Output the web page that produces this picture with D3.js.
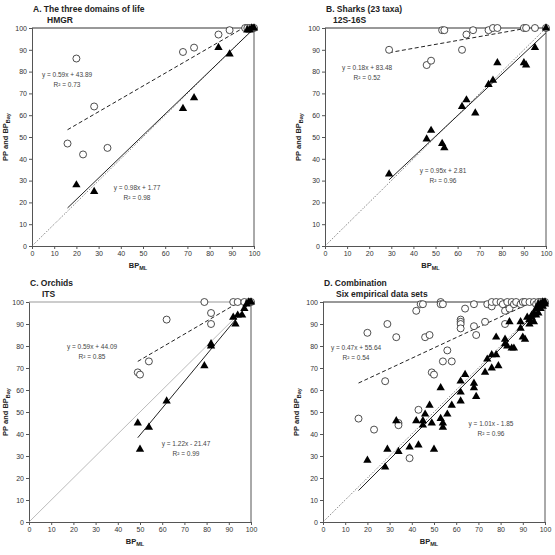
<!DOCTYPE html>
<html>
<head>
<meta charset="utf-8">
<script src="https://cdn.jsdelivr.net/npm/d3@7"></script>
<style>
  body { margin: 0; background: #fff; }
  svg { font-family: Arial, "Liberation Sans", sans-serif; }
</style>
</head>
<body>
<svg id="chart" width="555" height="555"></svg>
<script>
// values, [BP_ML, PP] and [BP_ML, BP_Bay]
var aPP = [[16,47],[20,86],[23,42],[28,64],[34,45],[68,89],[73,91],[84,97],[89,99],[96,100],[97,100],[98,100],[99,100],[100,100]];
var aBay = [[20,28],[28,25],[68,63],[73,68],[84,91],[89,88],[97,99],[98,99],[99,100],[100,100]];

var bPP = [[29,90],[46,83],[48,85],[53,99],[54,99],[62,90],[64,97],[67,99],[74,99],[76,100],[78,100],[90,100],[91,100],[95,100],[100,100]];
var bBay = [[29,33],[46,49],[48,53],[53,47],[54,45],[62,64],[64,67],[68,61],[74,74],[76,76],[78,84],[90,84],[91,83],[95,91],[100,100]];

var cPP = [[49,68],[50,67],[54,73],[62,92],[79,100],[82,95],[82,90],[92,100],[94,100],[97,100],[99,100],[100,100]];
var cBay = [[49,45],[50,33],[54,43],[62,55],[79,71],[82,81],[82,80],[92,93],[93,90],[94,94],[96,94],[97,97],[98,99],[99,100],[100,100]];

var dPP = [[16,47],[20,86],[23,42],[28,64],[29,90],[33,84],[34,45],[34,44],[39,29],[42,96],[43,51],[44,99],[45,99],
  [46,84],[48,85],[49,68],[50,67],[53,100],[53,99],[54,99],[54,73],[56,78],[58,73],[62,92],[62,91],[62,90],[62,88],
  [64,97],[68,99],[68,89],[69,85],[73,91],[74,99],[76,98],[76,100],[78,100],[80,100],[81,99],[82,96],[82,90],[83,100],
  [84,97],[85,100],[86,99],[87,100],[89,99],[90,100],[91,100],[93,100],[95,100],[96,99],[97,100],[98,100],[99,100],[100,100]];
var dBay = [[20,28],[28,25],[29,33],[33,46],[34,32],[39,34],[42,46],[43,35],[45,46],[45,44],[46,49],[48,53],[49,45],
  [50,33],[53,61],[53,47],[54,45],[54,43],[56,49],[58,53],[62,64],[62,59],[62,55],[64,67],[68,63],[68,61],[69,57],
  [73,68],[74,74],[76,76],[76,70],[78,76],[78,84],[79,71],[82,83],[82,81],[83,80],[84,91],[85,79],[86,79],[89,88],
  [89,91],[90,84],[91,83],[92,93],[93,90],[93,92],[94,94],[94,93],[95,91],[95,95],[96,94],[96,97],[97,97],[97,95],
  [97,99],[98,99],[98,97],[99,100],[99,98],[100,100],[100,99]];

// trendlines: [slope, intercept, R2, xFrom, xTo]
var aFits = [[0.59, 43.89, 0.73, 16, 100], [0.98, 1.77, 0.98, 16, 100]];
var bFits = [[0.18, 83.48, 0.52, 29, 100], [0.95, 2.81, 0.96, 29, 100]];
var cFits = [[0.59, 44.09, 0.85, 49, 100], [1.22, -21.47, 0.99, 49, 100]];
var dFits = [[0.47, 55.64, 0.54, 16, 100], [1.01, -1.85, 0.96, 16, 100]];

var titles = [
  ['A. The three domains of life', 'HMGR'],
  ['B. Sharks (23 taxa)', '12S-16S'],
  ['C. Orchids', 'ITS'],
  ['D. Combination', 'Six empirical data sets']
];
var ticks = [0, 10, 20, 30, 40, 50, 60, 70, 80, 90, 100];

var panels = [
  {pp: aPP, bay: aBay, fits: aFits, title: titles[0], box: [32, 254, 28, 246], t2: 15,
    eq: [[67, 77], [137, 190]], diag: 'dot'},
  {pp: bPP, bay: bBay, fits: bFits, title: titles[1], box: [325, 546, 28, 246], t2: 8,
    eq: [[367, 70], [443, 173]], diag: 'dot'},
  {pp: cPP, bay: cBay, fits: cFits, title: titles[2], box: [29, 251, 302, 522], t2: 13,
    eq: [[92, 349], [186, 446]], diag: 'solid'},
  {pp: dPP, bay: dBay, fits: dFits, title: titles[3], box: [323, 545, 302, 522], t2: 13,
    eq: [[356, 350], [491, 426]], diag: 'dot'}
];

var svg = d3.select('#chart');

panels.forEach(function (p, i) {
  var x = d3.scaleLinear().domain([0, 100]).range([p.box[0], p.box[1]]);
  var y = d3.scaleLinear().domain([0, 100]).range([p.box[3], p.box[2]]);
  var g = svg.append('g');

  g.append('clipPath').attr('id', 'clip' + i)
    .append('rect')
    .attr('x', p.box[0] - 5).attr('y', p.box[2] - 5)
    .attr('width', p.box[1] - p.box[0] + 10).attr('height', p.box[3] - p.box[2] + 10);
  g.append('clipPath').attr('id', 'lclip' + i)
    .append('rect')
    .attr('x', p.box[0]).attr('y', p.box[2])
    .attr('width', p.box[1] - p.box[0]).attr('height', p.box[3] - p.box[2]);

  //Axes
  var yAxis = d3.axisLeft(y).tickValues(ticks).tickSize(3).tickPadding(2);
  var xAxis = d3.axisBottom(x).tickValues(ticks).tickSize(3).tickPadding(2);
  g.append('g').attr('transform', 'translate(' + p.box[0] + ',0)').call(yAxis);
  g.append('g').attr('transform', 'translate(0,' + p.box[3] + ')').call(xAxis);
  g.selectAll('.domain').attr('stroke', '#555');
  g.selectAll('.tick line').attr('stroke', '#555');
  g.selectAll('.tick text').attr('fill', '#333').style('font-size', '7px');

  // border on top and right
  g.append('line')
    .attr('x1', p.box[0]).attr('y1', p.box[2]).attr('x2', p.box[1]).attr('y2', p.box[2])
    .attr('stroke', i == 2 ? '#999' : '#333').attr('stroke-width', 1);
  g.append('line')
    .attr('x1', p.box[1]).attr('y1', p.box[2]).attr('x2', p.box[1]).attr('y2', p.box[3])
    .attr('stroke', '#555').attr('stroke-width', 1);

  var lines = g.append('g').attr('clip-path', 'url(#lclip' + i + ')');
  var plot = g.append('g').attr('clip-path', 'url(#clip' + i + ')');

  // 1:1 line
  lines.append('line')
    .attr('x1', x(0)).attr('y1', y(0)).attr('x2', x(100)).attr('y2', y(100))
    .attr('stroke', p.diag == 'dot' ? '#666' : '#aaa')
    .attr('stroke-width', p.diag == 'dot' ? 1 : 0.8)
    .attr('stroke-dasharray', p.diag == 'dot' ? '1,1.5' : null);

  // trendlines
  p.fits.forEach(function (f, k) {
    lines.append('line')
      .attr('x1', x(f[3])).attr('y1', y(f[0] * f[3] + f[1]))
      .attr('x2', x(f[4])).attr('y2', y(f[0] * f[4] + f[1]))
      .attr('stroke', '#222')
      .attr('stroke-width', 1)
      .attr('stroke-dasharray', k == 0 ? '4,2.5' : null);
  });

  //Markers
  plot.selectAll('circle.pp').data(p.pp).enter().append('circle')
    .attr('class', 'pp')
    .attr('cx', function (d) {return x(d[0]);})
    .attr('cy', function (d) {return y(d[1]);})
    .attr('r', 3.5)
    .attr('fill', '#fff')
    .attr('stroke', '#222')
    .attr('stroke-width', 0.8);

  var tri = d3.symbol().type(d3.symbolTriangle).size(30);
  plot.selectAll('path.bay').data(p.bay).enter().append('path')
    .attr('class', 'bay')
    .attr('d', tri)
    .attr('transform', function (d) {return 'translate(' + x(d[0]) + ',' + y(d[1]) + ')';})
    .attr('fill', '#000');

  // equations
  p.fits.forEach(function (f, k) {
    var sign = f[1] < 0 ? ' - ' : ' + ';
    var t = g.append('text')
      .attr('x', p.eq[k][0]).attr('y', p.eq[k][1])
      .attr('text-anchor', 'middle')
      .attr('fill', '#444')
      .style('font-size', '6.5px');
    t.append('tspan').text('y = ' + f[0].toFixed(2) + 'x' + sign + Math.abs(f[1]).toFixed(2));
    t.append('tspan').attr('x', p.eq[k][0]).attr('dy', 10).text('R\u00b2 = ' + f[2].toFixed(2));
  });

  // titles
  g.append('text')
    .attr('x', p.box[0] + 1).attr('y', p.box[2] - 16)
    .attr('font-weight', 'bold').style('font-size', '8.5px').attr('fill', '#222')
    .text(p.title[0]);
  g.append('text')
    .attr('x', p.box[0] + p.t2).attr('y', p.box[2] - 5)
    .attr('font-weight', 'bold').style('font-size', '8.5px').attr('fill', '#222')
    .text(p.title[1]);

  // axis titles
  var xt = g.append('text')
    .attr('x', (p.box[0] + p.box[1]) / 2 - 5).attr('y', p.box[3] + 22)
    .attr('text-anchor', 'middle')
    .attr('font-weight', 'bold').style('font-size', '7.5px').attr('fill', '#222');
  xt.append('tspan').text('BP');
  xt.append('tspan').attr('dy', 2).style('font-size', '5.5px').text('ML');

  var cy = (p.box[2] + p.box[3]) / 2;
  var cx = Math.max(p.box[0] - 24, 8);
  var yt = g.append('text')
    .attr('transform', 'translate(' + cx + ',' + cy + ') rotate(-90)')
    .attr('text-anchor', 'middle')
    .attr('font-weight', 'bold').style('font-size', '7.5px').attr('fill', '#222');
  yt.append('tspan').text('PP and BP');
  yt.append('tspan').attr('dy', 2).style('font-size', '5.5px').text('Bay');
});
</script>
</body>
</html>
